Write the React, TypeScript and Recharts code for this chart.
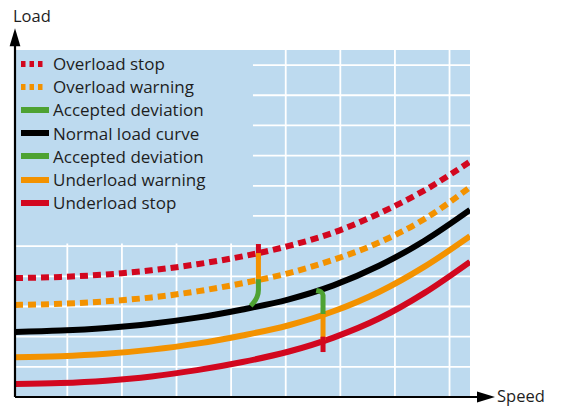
import React from 'react';
import {
  ComposedChart, Line, XAxis, YAxis, CartesianGrid, ReferenceArea, ReferenceLine, Legend,
} from 'recharts';

// curves (speed 0..100, load 0..115)
const SPEED = [0, 10, 20, 30, 40, 50, 60, 70, 80, 90, 100];
const OVERLOAD_STOP = [39.4, 39.8, 40.6, 42.0, 44.0, 46.6, 50.0, 54.5, 60.8, 68.5, 78.0];
const OVERLOAD_WARNING = [30.5, 30.9, 31.7, 33.0, 35.0, 37.7, 41.0, 45.5, 51.2, 59.0, 69.5];
const NORMAL = [21.5, 22.0, 22.9, 24.3, 26.3, 29.0, 32.3, 37.0, 43.5, 51.8, 62.0];
const UNDERLOAD_WARNING = [13.2, 13.5, 14.3, 15.7, 17.7, 20.4, 23.7, 28.4, 34.8, 43.2, 53.3];
const UNDERLOAD_STOP = [4.3, 4.6, 5.4, 6.8, 8.9, 11.6, 15.0, 19.7, 26.0, 34.5, 44.8];

// deviation markers
const DEV1_RED = [{ x: 53.5, y: 45.6 }, { x: 53.5, y: 50.7 }];
const DEV1_ORANGE = [{ x: 53.5, y: 47.7 }, { x: 53.5, y: 38.7 }];
const DEV1_GREEN = [{ x: 53.5, y: 39.0 }, { x: 53.5, y: 35.5 }, { x: 53.2, y: 33.2 }, { x: 52.5, y: 31.4 }, { x: 51.8, y: 30.2 }];
const DEV2_GREEN = [{ x: 66.2, y: 35.3 }, { x: 67.2, y: 34.9 }, { x: 67.7, y: 33.8 }, { x: 67.7, y: 27.3 }];
const DEV2_ORANGE = [{ x: 67.7, y: 27.5 }, { x: 67.7, y: 18.8 }];
const DEV2_RED = [{ x: 67.7, y: 20.0 }, { x: 67.7, y: 14.9 }];

const X_GRID = [5.5, 11.5, 17.5, 23.5, 29.5, 35.5, 41.5, 47.5, 53.5, 59.5, 65.5, 71.5, 77.5, 83.5, 89.5, 95.5];
const Y_GRID = [10, 20, 30, 40, 50, 60, 70, 80, 90, 100, 110];

const RED = '#d2071f';
const ORANGE = '#f39200';
const GREEN = '#4ea232';
const BLACK = '#000000';
const BG = '#bddaef';

const LEGEND = [
  { name: 'Overload stop', color: RED, dotted: true },
  { name: 'Overload warning', color: ORANGE, dotted: true },
  { name: 'Accepted deviation', color: GREEN, dotted: false },
  { name: 'Normal load curve', color: BLACK, dotted: false },
  { name: 'Accepted deviation', color: GREEN, dotted: false },
  { name: 'Underload warning', color: ORANGE, dotted: false },
  { name: 'Underload stop', color: RED, dotted: false },
];

const data = SPEED.map((x, i) => ({
  x,
  overStop: OVERLOAD_STOP[i],
  overWarn: OVERLOAD_WARNING[i],
  normal: NORMAL[i],
  underWarn: UNDERLOAD_WARNING[i],
  underStop: UNDERLOAD_STOP[i],
}));

const arrow = (label: string, dx: number, dy: number) => (props: any) => {
  const { x1, y1, x2, y2 } = props;
  const len = Math.hypot(x2 - x1, y2 - y1) || 1;
  const ux = (x2 - x1) / len;
  const uy = (y2 - y1) / len;
  const hl = 18, hw = 5.4;
  const bx = x2 - ux * hl, by = y2 - uy * hl;
  const pts = `${x2},${y2} ${bx - uy * hw},${by + ux * hw} ${bx + uy * hw},${by - ux * hw}`;
  return (
    <g>
      <line x1={x1} y1={y1} x2={bx + ux * 2} y2={by + uy * 2} stroke="#000" strokeWidth={2.2} />
      <polygon points={pts} fill="#000" />
      <text x={x2 + dx} y={y2 + dy} fontSize={16.5} fill="#1e1e1e">{label}</text>
    </g>
  );
};

const LegendBox = () => (
  <div style={{ display: 'flex', flexDirection: 'column' }}>
    {LEGEND.map((l, i) => (
      <div key={`lg-${i}`} style={{ display: 'flex', alignItems: 'center', height: 23.2, lineHeight: '23.2px' }}>
        <svg width={28} height={6} style={{ marginRight: 4, flexShrink: 0 }}>
          <line x1={0} y1={3} x2={l.dotted ? 23 : 28} y2={3} stroke={l.color} strokeWidth={6}
            strokeDasharray={l.dotted ? '4.5 4' : undefined} />
        </svg>
        <span style={{ fontSize: 17, color: '#1e1e1e', whiteSpace: 'nowrap' }}>{l.name}</span>
      </div>
    ))}
  </div>
);

export default function App() {
  const curve = { type: 'monotone' as const, dot: false, activeDot: false, isAnimationActive: false, strokeWidth: 6 };
  const mark = { dataKey: 'y', dot: false, activeDot: false, isAnimationActive: false, strokeWidth: 5 };
  return (
    <div style={{ position: 'absolute', left: 0, top: 0, fontFamily: "'Open Sans', sans-serif" }}>
      <ComposedChart width={561} height={406} data={data} margin={{ top: 50, right: 91, bottom: 9, left: 15 }}>
        <XAxis type="number" dataKey="x" domain={[0, 100]} hide allowDataOverflow />
        <YAxis type="number" domain={[0, 115]} hide allowDataOverflow />
        <CartesianGrid fill={BG} stroke="#ffffff" strokeWidth={1.8} verticalValues={X_GRID} horizontalValues={Y_GRID} />
        <ReferenceArea x1={0} x2={52.3} y1={50.9} y2={115} fill={BG} fillOpacity={1} stroke="none" />

        <Line {...curve} dataKey="overStop" stroke={RED} strokeDasharray="8 5" />
        <Line {...curve} dataKey="overWarn" stroke={ORANGE} strokeDasharray="8 5" />
        <Line {...curve} dataKey="normal" stroke={BLACK} />
        <Line {...curve} dataKey="underWarn" stroke={ORANGE} />
        <Line {...curve} dataKey="underStop" stroke={RED} />

        <Line {...mark} data={DEV1_RED} type="linear" stroke={RED} />
        <Line {...mark} data={DEV1_ORANGE} type="linear" stroke={ORANGE} />
        <Line {...mark} data={DEV1_GREEN} type="monotoneY" stroke={GREEN} />
        <Line {...mark} data={DEV2_GREEN} type="monotoneY" stroke={GREEN} />
        <Line {...mark} data={DEV2_ORANGE} type="linear" stroke={ORANGE} />
        <Line {...mark} data={DEV2_RED} type="linear" stroke={RED} />

        <ReferenceLine segment={[{ x: 0, y: 0 }, { x: 105.5, y: 0 }]} ifOverflow="visible" shape={arrow('Speed', 2, 5)} />
        <ReferenceLine segment={[{ x: 0, y: 0 }, { x: 0, y: 122.2 }]} ifOverflow="visible" shape={arrow('Load', -2, -6)} />

        <Legend content={() => <LegendBox />} layout="vertical" align="center" verticalAlign="middle"
          wrapperStyle={{ left: 21, top: 52, width: 230 }} />
      </ComposedChart>
    </div>
  );
}
